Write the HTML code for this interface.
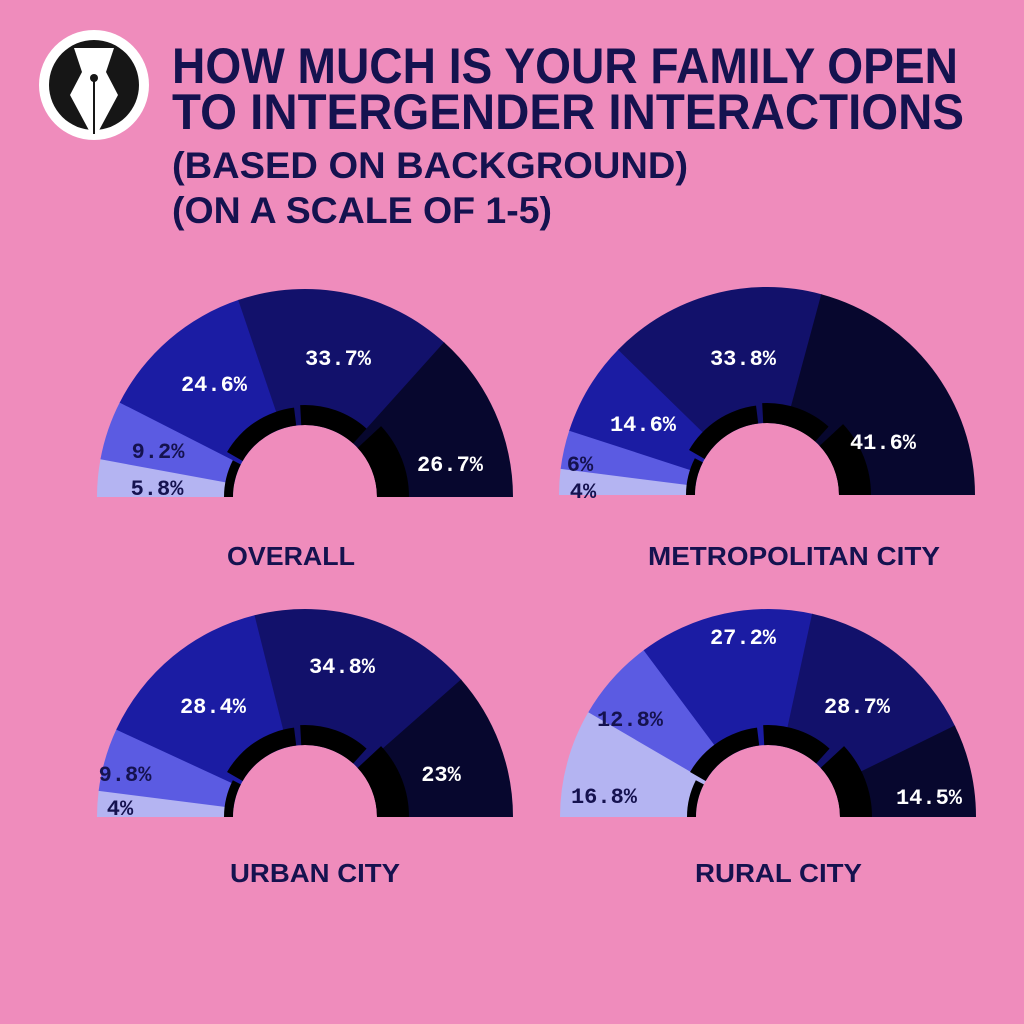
<!DOCTYPE html>
<html><head><meta charset="utf-8"><style>
html,body{margin:0;padding:0;background:#ef8cbc;}
svg{display:block}
</style></head><body>
<svg id="s" width="1024" height="1024" viewBox="0 0 1024 1024" xmlns="http://www.w3.org/2000/svg">
<rect width="1024" height="1024" fill="#ef8cbc"/>
<circle cx="94" cy="85" r="55" fill="#fff"/>
<circle cx="94" cy="85" r="45" fill="#161616"/>
<path d="M74 48 L114 48 L106 72 L118 95 L96 136 L92 136 L70 95 L82 72 Z" fill="#fff"/>
<circle cx="94" cy="78" r="4" fill="#161616"/>
<rect x="93" y="78" width="2" height="56" fill="#161616"/>
<g font-family="'Liberation Sans Narrow','Liberation Sans',sans-serif" font-weight="bold" fill="#15124f">
<text x="172" y="83" font-size="50" textLength="786" lengthAdjust="spacingAndGlyphs">HOW MUCH IS YOUR FAMILY OPEN</text>
<text x="172" y="129" font-size="50" textLength="792" lengthAdjust="spacingAndGlyphs">TO INTERGENDER  INTERACTIONS</text>
<text x="172" y="178" font-size="37" textLength="516" lengthAdjust="spacingAndGlyphs">(BASED ON BACKGROUND)</text>
<text x="172" y="223" font-size="37" textLength="380" lengthAdjust="spacingAndGlyphs">(ON A  SCALE OF 1-5)</text>
<text x="227" y="565" font-size="26" textLength="128" lengthAdjust="spacingAndGlyphs">OVERALL</text>
<text x="648" y="565" font-size="26" textLength="292" lengthAdjust="spacingAndGlyphs">METROPOLITAN CITY</text>
<text x="230" y="882" font-size="26" textLength="170" lengthAdjust="spacingAndGlyphs">URBAN CITY</text>
<text x="695" y="882" font-size="26" textLength="167" lengthAdjust="spacingAndGlyphs">RURAL CITY</text>
</g>
<g id="charts"></g>
</svg>
<script>
var NS="http://www.w3.org/2000/svg",g=document.getElementById('charts');
var cols=["#b4b4f2","#5b5be2","#1b1ca3","#12116b","#07072e"];
var charts=[
 {cx:305,cy:497,v:[5.8,9.2,24.6,33.7,26.7],L:[[157,487],[158,450],[214,383],[338,357],[450,463]]},
 {cx:767,cy:495,v:[4,6,14.6,33.8,41.6],L:[[583,490],[580,463],[643,423],[743,357],[883,441]]},
 {cx:305,cy:817,v:[4,9.8,28.4,34.8,23],L:[[120,807],[125,773],[213,705],[342,665],[441,773]]},
 {cx:768,cy:817,v:[16.8,12.8,27.2,28.7,14.5],L:[[604,795],[630,718],[743,636],[857,705],[929,796]]}
];
function el(t,a){var e=document.createElementNS(NS,t);for(var k in a)e.setAttribute(k,a[k]);g.appendChild(e);return e;}
function pt(cx,cy,r,a){a=a*Math.PI/180;return [cx+r*Math.cos(a),cy-r*Math.sin(a)];}
function arc(cx,cy,r0,r1,a0,a1,fill){
 var p1=pt(cx,cy,r1,a0),p2=pt(cx,cy,r1,a1),p3=pt(cx,cy,r0,a1),p4=pt(cx,cy,r0,a0);
 var big=(a0-a1)>180?1:0;
 el('path',{d:"M"+p4+" L"+p1+" A"+r1+" "+r1+" 0 "+big+" 1 "+p2+" L"+p3+" A"+r0+" "+r0+" 0 "+big+" 0 "+p4+"Z",fill:fill});
}
charts.forEach(function(c){
 var a=180;
 c.v.forEach(function(v,i){var b=a-v*1.8;arc(c.cx,c.cy,60,208,a,b-0.3*(i<4?1:0),cols[i]);a=b;});
 arc(c.cx,c.cy,0.1,72,180,0,"#ef8cbc");
 arc(c.cx,c.cy,72,81,180,153,"#000");
 arc(c.cx,c.cy,72,90,150,97,"#000");
 arc(c.cx,c.cy,72,92,93,48,"#000");
 arc(c.cx,c.cy,72,104,43,0,"#000");
 c.v.forEach(function(v,i){
  var t=el('text',{x:c.L[i][0],y:c.L[i][1]+8,"text-anchor":"middle","font-family":"'Liberation Mono',monospace","font-weight":"bold","font-size":"22",fill:(i<2?"#15124f":"#fff")});
  t.textContent=v+"%";
 });
});
</script>
</body></html>
